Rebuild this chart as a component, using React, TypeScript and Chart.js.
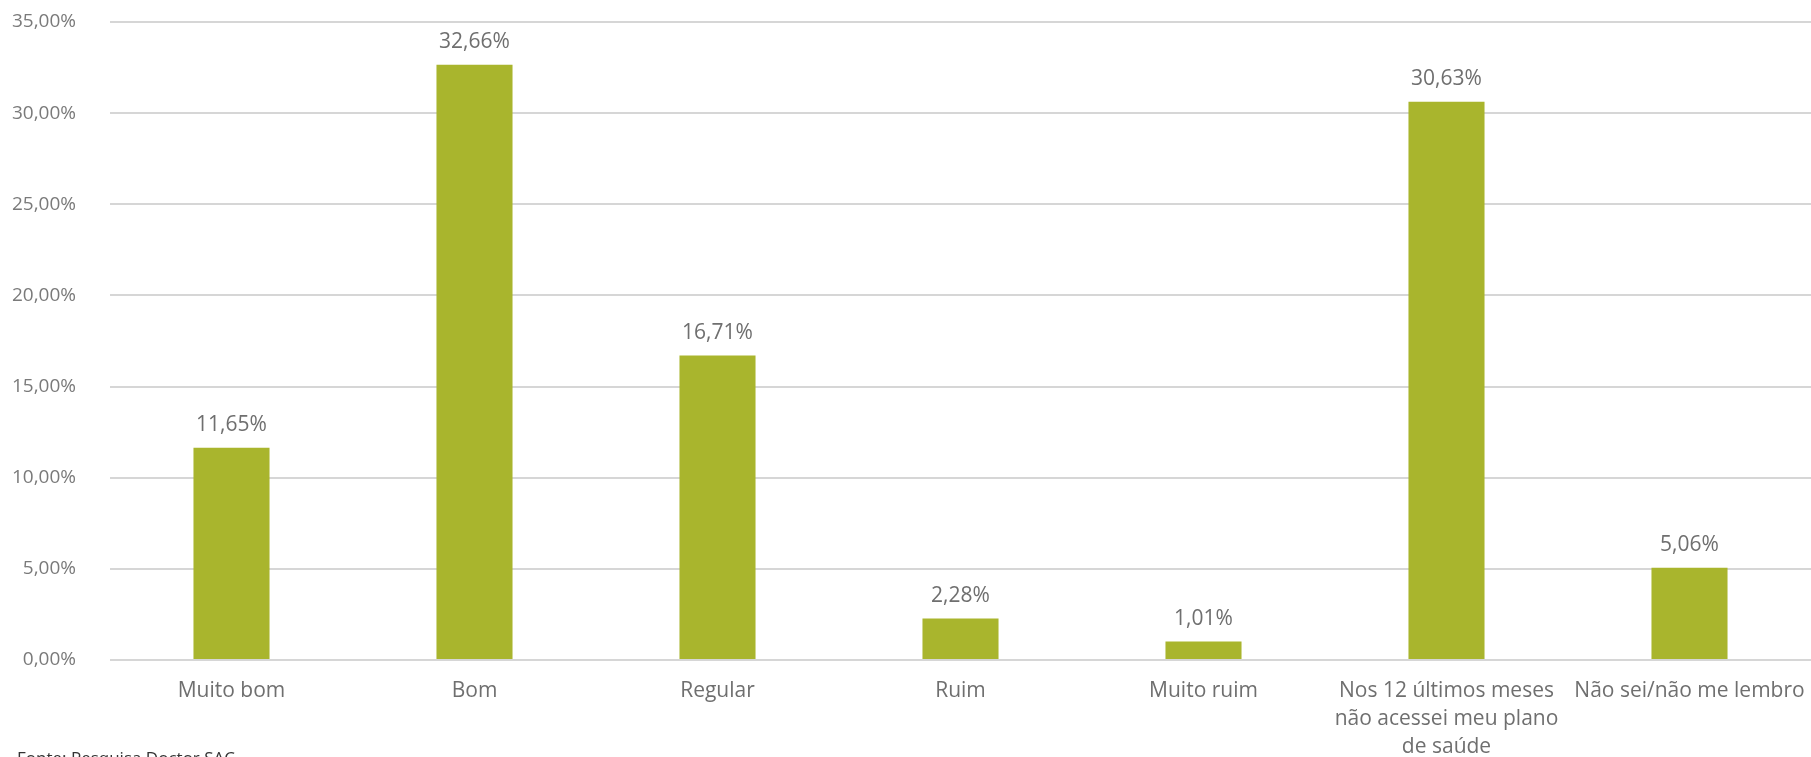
import React, { useEffect, useRef } from "react";
import { Chart, registerables } from "chart.js";

Chart.register(...registerables);

const categories: (string | string[])[] = [
  "Muito bom",
  "Bom",
  "Regular",
  "Ruim",
  "Muito ruim",
  ["Nos 12 últimos meses", "não acessei meu plano", "de saúde"],
  "Não sei/não me lembro",
];
const values: number[] = [11.65, 32.66, 16.71, 2.28, 1.01, 30.63, 5.06];
const yMax = 35;
const yStep = 5;
const sourceNote = "Fonte: Pesquisa Doctor SAC";

const fmt = (v: number) => v.toFixed(2).replace(".", ",") + "%";

const FONT = "'Open Sans', sans-serif";

const dataLabels = {
  id: "dataLabels",
  afterDatasetsDraw(chart: any) {
    const ctx = chart.ctx;
    const meta = chart.getDatasetMeta(0);
    ctx.save();
    ctx.font = `21px ${FONT}`;
    ctx.fillStyle = "#6f6f6f";
    ctx.textAlign = "center";
    ctx.textBaseline = "bottom";
    meta.data.forEach((bar: any, i: number) => {
      ctx.fillText(fmt(values[i]), bar.x, bar.y - 12);
    });
    ctx.restore();
  },
};

const zeroPad = (s: any) => {
  s.paddingTop = 0;
  s.paddingBottom = 0;
  s.paddingLeft = 0;
  s.paddingRight = 0;
};

export default function App() {
  const ref = useRef<HTMLCanvasElement>(null);
  useEffect(() => {
    document.body.style.margin = "0";
    if (!ref.current) return;
    const chart = new Chart(ref.current, {
      type: "bar",
      data: {
        labels: categories,
        datasets: [
          {
            data: values,
            backgroundColor: "#a9b52d",
            categoryPercentage: 1,
            barPercentage: 0.313,
          },
        ],
      },
      plugins: [dataLabels],
      options: {
        animation: false,
        responsive: false,
        maintainAspectRatio: false,
        layout: { padding: { top: 22, right: 0, left: 0, bottom: 0 } },
        plugins: {
          legend: { display: false },
          tooltip: { enabled: false },
        },
        scales: {
          x: {
            grid: { display: false, drawTicks: false },
            border: { display: false },
            ticks: {
              autoSkip: false,
              maxRotation: 0,
              minRotation: 0,
              padding: 17,
              color: "#6f6f6f",
              font: { family: FONT, size: 21, lineHeight: 1.33 },
            },
            afterFit: (s: any) => {
              s.height = 97;
              zeroPad(s);
            },
          },
          y: {
            min: 0,
            max: yMax,
            ticks: {
              stepSize: yStep,
              padding: 34,
              color: "#7a7a7a",
              font: { family: FONT, size: 19 },
              callback: (v: any) => fmt(Number(v)),
            },
            grid: { color: "#d6d6d6", lineWidth: 2, drawTicks: false },
            border: { display: false },
            afterFit: (s: any) => {
              s.width = 110;
              zeroPad(s);
            },
          },
        },
      },
    });
    return () => chart.destroy();
  }, []);
  return (
    <div
      style={{
        position: "relative",
        width: 1811,
        height: 757,
        overflow: "hidden",
        background: "#ffffff",
      }}
    >
      <canvas ref={ref} width={1811} height={757} style={{ display: "block" }} />
      <div
        style={{
          position: "absolute",
          left: 17,
          top: 748,
          fontFamily: FONT,
          fontSize: 17,
          lineHeight: "20px",
          color: "#333333",
          whiteSpace: "nowrap",
        }}
      >
        {sourceNote}
      </div>
    </div>
  );
}
